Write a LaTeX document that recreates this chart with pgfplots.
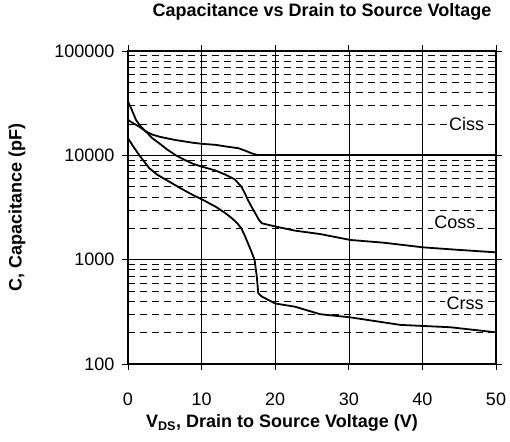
\documentclass[border=0pt]{standalone}
\usepackage{pgfplots}
\pgfplotsset{compat=1.18}
\usetikzlibrary{calc}
\usepackage{fontspec}
\setmainfont{Liberation Sans}
\begin{document}
\begin{tikzpicture}[x=1pt,y=1pt]
\begin{axis}[
  scale only axis,
  width=368pt, height=313pt,
  ymode=log,
  xmin=0, xmax=50, ymin=100, ymax=100000,
  xtick={0,10,20,30,40,50},
  ytick={100,1000,10000,100000},
  yticklabels={100,1000,10000,100000},
  log basis y=10,
  minor ytick={200,300,400,500,600,700,800,900,2000,3000,4000,5000,6000,7000,8000,9000,20000,30000,40000,50000,60000,70000,80000,90000},
  /pgf/number format/assume math mode=true,
  tick label style={font=\fontsize{18}{21}\selectfont},
  xticklabel style={anchor=center, yshift=-29pt},
  yticklabel style={xshift=-4pt},
  tick align=outside,
  major tick length=6pt,
  minor tick length=0pt,
  tick style={black, line width=0.8pt},
  axis line style={black, line width=2pt},
  grid=both,
  major grid style={black, line width=0.6pt},
  minor grid style={black, line width=0.6pt, dash pattern=on 7pt off 5pt},
  xmajorgrids=true, ymajorgrids=true, yminorgrids=true,
  clip=true,
]
% Ciss
\addplot[black, line width=1.8pt, line join=round] coordinates {
(0,21800) (0.7,20300) (1.54,18800) (2.45,16900) (3.3,15800) (4.25,15100) (5.4,14500)
(6.5,14000) (8.8,13200) (10,12900) (11.9,12600) (13.5,12100) (15,11700) (15.9,11100)
(16.8,10450) (17.5,10100) (18.5,10050) (50,10050)};
% Coss
\addplot[black, line width=1.8pt, line join=round] coordinates {
(0,32700) (0.5,27500) (1.09,21800) (1.7,19000) (2.45,16860) (3.3,14600) (4.25,13030)
(5.3,11400) (6.5,10000) (7.6,9100) (8.8,8320) (10,7800) (11.9,7150) (13.3,6500)
(14.5,5890) (15.4,5010) (15.9,4300) (16.3,3730) (16.8,3200) (17.3,2780) (17.8,2400)
(18.2,2230) (20,2080) (22.7,1897) (26.1,1760) (30.2,1545) (34.7,1455) (40.1,1312)
(45,1240) (50,1175)};
% Crss
\addplot[black, line width=1.8pt, line join=round] coordinates {
(0,14600) (0.7,12200) (1.54,10000) (2.2,8700) (2.9,7520) (4,6500) (5.2,5810) (7,4900)
(8.8,4170) (10,3800) (11.9,3220) (13.2,2800) (14.1,2500) (14.8,2250) (15.4,1995)
(15.9,1680) (16.3,1435) (16.8,1180) (17.2,993) (17.5,687) (17.7,476) (18.2,442)
(20,380) (22.7,354) (26.1,300) (30.2,280) (37,237) (43.8,225) (50,201)};
\node[fill=white, inner sep=1.5pt, font=\fontsize{18}{21}\selectfont] at (axis cs:46.0,20000) {Ciss};
\node[fill=white, inner sep=1.5pt, font=\fontsize{18}{21}\selectfont] at (axis cs:44.4,2300) {Coss};
\node[fill=white, inner sep=1.5pt, font=\fontsize{18}{21}\selectfont] at (axis cs:45.8,378) {Crss};
\end{axis}
\node[font=\fontsize{18}{21}\selectfont\bfseries] at ($(current axis.north)+(10pt,39pt)$) {Capacitance vs Drain to Source Voltage};
\node[font=\fontsize{18}{21}\selectfont\bfseries] at ($(current axis.south)+(-30pt,-59pt)$) {V\textsubscript{DS}, Drain to Source Voltage (V)};
\node[font=\fontsize{18}{21}\selectfont\bfseries, rotate=90] at ($(current axis.west)+(-111pt,0pt)$) {C, Capacitance (pF)};
\useasboundingbox ($(current axis.south west)+(-128pt,-78pt)$) rectangle ($(current axis.north east)+(14pt,51pt)$);
\end{tikzpicture}
\end{document}
